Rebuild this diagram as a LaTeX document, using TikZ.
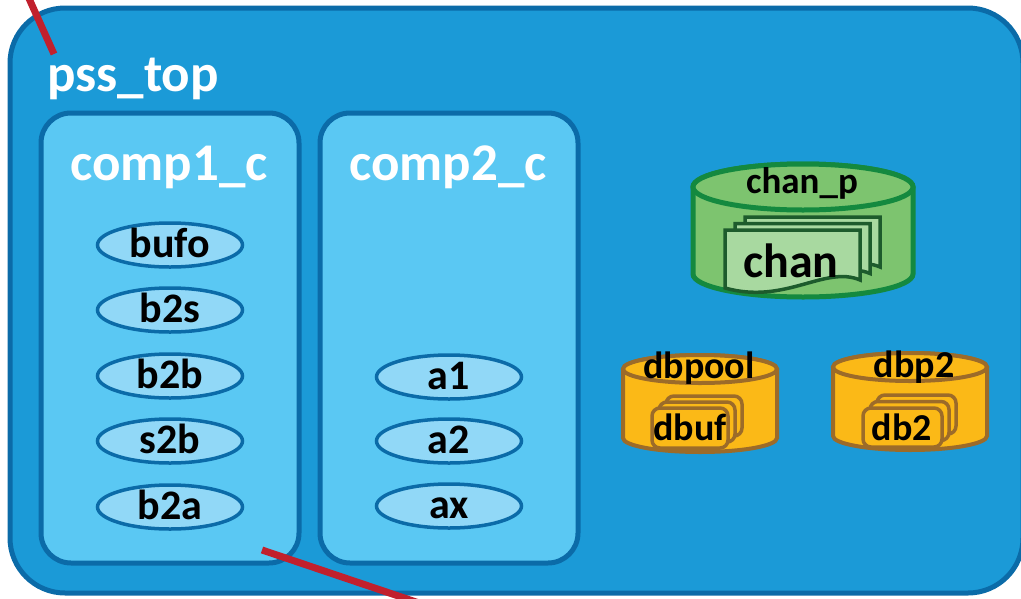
\documentclass[tikz,border=0pt]{standalone}
\usepackage{fontspec}
\setmainfont{Carlito}
\usetikzlibrary{shapes.geometric}

\definecolor{topfill}{HTML}{1B9AD7}
\definecolor{topline}{HTML}{0B6BA8}
\definecolor{compfill}{HTML}{5AC8F3}
\definecolor{portfill}{HTML}{91D8F7}
\definecolor{chanfill}{HTML}{7DC46F}
\definecolor{chanline}{HTML}{14893F}
\definecolor{docfill}{HTML}{A8D9A0}
\definecolor{docline}{HTML}{1D5B2C}
\definecolor{poolfill}{HTML}{FBB917}
\definecolor{poolline}{HTML}{9C6B29}
\definecolor{bindred}{HTML}{C1202D}

\begin{document}
\begin{tikzpicture}[x=1pt,y=-1pt,
        every node/.style={inner sep=0pt},
        topbox/.style={draw=topline,fill=topfill,line width=5pt,rounded corners=55pt},
        compbox/.style={draw=topline,fill=compfill,line width=5pt,rounded corners=30pt},
        whitelabel/.style={text=white,font=\fontsize{53}{53}\selectfont\bfseries},
        port/.style={ellipse,draw=topline,fill=portfill,line width=3.5pt,
            minimum width=145pt,minimum height=44pt,text height=25pt,text depth=0pt,
            font=\fontsize{42}{42}\selectfont\bfseries},
        chancyl/.style={draw=chanline,fill=chanfill,line width=5pt},
        chandoc/.style={draw=docline,fill=docfill,line width=3.5pt},
        poolcyl/.style={draw=poolline,fill=poolfill,line width=4pt},
        pooldoc/.style={draw=poolline,fill=poolfill,line width=3.5pt,rounded corners=8pt},
        dblabel/.style={anchor=base,font=\fontsize{38}{38}\selectfont\bfseries},
        binding/.style={draw=bindred,line width=7pt}]
    \useasboundingbox (0,0) rectangle (1021,598);
    \def\cyl#1#2#3#4#5#6{%
        \filldraw[#1] (#2-#4,#3) -- (#2-#4,#6) arc (180:0:#4 and #5)
            -- (#2+#4,#3) arc (0:-180:#4 and #5) -- cycle;
        \draw[#1] (#2,#3) ellipse (#4 and #5);}
    \def\chansheet{(0,0) -- (135,0) -- (135,50) .. controls (100,35) and (60,75) .. (0,58) -- cycle}

    % top component
    \draw[topbox] (10,8) rectangle (1023,593);
    \node[whitelabel,anchor=base west] (pss) at (47,91) {pss\_top};

    % sub components
    \draw[compbox] (41,113) rectangle (299,563);
    \draw[compbox] (320,113) rectangle (578,563);
    \node[whitelabel,anchor=base] (comp1) at (169,180) {comp1\_c};
    \node[whitelabel,anchor=base] (comp2) at (448,180) {comp2\_c};

    % ports
    \foreach \p/\y in {bufo/245,b2s/310,b2b/376,s2b/441,b2a/507}
        \node[port] (\p) at (170,\y) {\p};
    \foreach \p/\y in {a1/377,a2/441,ax/506}
        \node[port] (\p) at (449,\y) {\p};

    % channel pool
    \cyl{chancyl}{803}{187}{110}{23}{274}
    \node[anchor=base,font=\fontsize{37}{37}\selectfont\bfseries] (chanp) at (802,193) {chan\_p};
    \foreach \s in {2,1,0}
        \draw[chandoc,shift={(725+10*\s,230-6.5*\s)}] \chansheet;
    \node[anchor=base,font=\fontsize{48}{48}\selectfont\bfseries] (chan) at (791,277) {chan};

    % buffer pools
    \cyl{poolcyl}{700}{369}{77}{14}{438}
    \node[dblabel] (dbpool) at (699,378) {dbpool};
    \foreach \s in {2,1,0}
        \draw[pooldoc] (652+7*\s,408-6*\s) rectangle ++(76,40);
    \node[dblabel] (dbuf) at (690,440) {dbuf};

    \cyl{poolcyl}{910}{367}{77}{14}{436}
    \node[dblabel] (dbp2) at (914,377) {dbp2};
    \foreach \s in {2,1,0}
        \draw[pooldoc] (863+7*\s,408-6.5*\s) rectangle ++(79,39);
    \node[dblabel] (db2) at (902,440) {db2};

    % bindings
    \coordinate (bindAs) at (27,-6);
    \coordinate (bindAe) at (54,54);
    \coordinate (bindBs) at (262,550);
    \coordinate (bindBe) at (425,605);
    \draw[binding] (bindAs) -- (bindAe);
    \draw[binding] (bindBs) -- (bindBe);
\end{tikzpicture}
\end{document}
